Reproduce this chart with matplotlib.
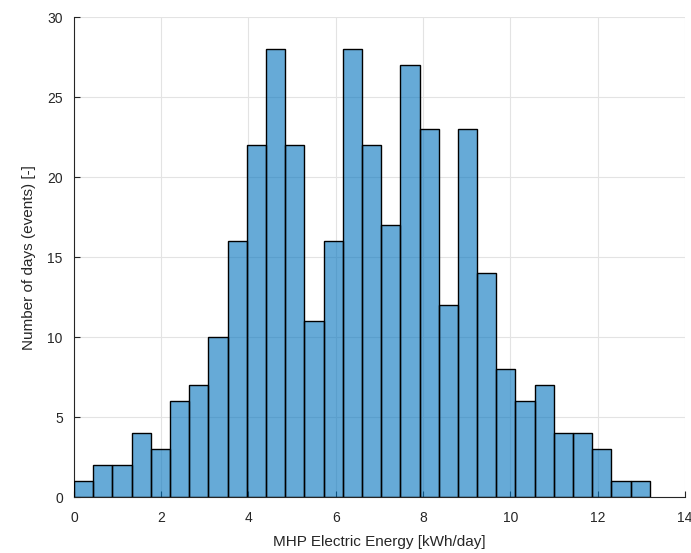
import matplotlib
matplotlib.use('Agg')
import matplotlib.pyplot as plt
import numpy as np

plt.rcParams['font.family'] = ['Liberation Sans', 'DejaVu Sans']

# histogram bins (kWh/day) and counts per bin
bin_edges = np.round(np.arange(31) * 0.44, 2)
counts = [1, 2, 2, 4, 3, 6, 7, 10, 16, 22, 28, 22, 11, 16, 28,
          22, 17, 27, 23, 12, 23, 14, 8, 6, 7, 4, 4, 3, 1, 1]

fig = plt.figure(figsize=(6.91, 5.53), dpi=100)
ax = fig.add_axes([0.107, 0.101, 0.884, 0.868])

ax.hist(bin_edges[:-1], bins=bin_edges, weights=counts,
        color='#0072BD', alpha=0.6, edgecolor='black', linewidth=0.9, zorder=2)
# redraw edges fully opaque
ax.hist(bin_edges[:-1], bins=bin_edges, weights=counts, histtype='bar',
        facecolor='none', edgecolor='black', linewidth=0.9, zorder=3)

ax.set_xlim(0, 14)
ax.set_ylim(0, 30)
ax.set_xticks(np.arange(0, 15, 2))
ax.set_yticks(np.arange(0, 31, 5))
ax.grid(True, color='#e3e3e3', linewidth=0.8, zorder=0)
ax.set_axisbelow(True)

for s in ['top', 'right']:
    ax.spines[s].set_visible(False)
for s in ['left', 'bottom']:
    ax.spines[s].set_color('#262626')
    ax.spines[s].set_linewidth(0.8)
ax.tick_params(direction='in', length=4, width=0.8, colors='#262626',
               labelsize=10)
ax.tick_params(axis='x', pad=10)
ax.tick_params(axis='y', pad=8)

ax.set_xlabel('MHP Electric Energy [kWh/day]', fontsize=11, color='#262626', labelpad=7)
ax.set_ylabel('Number of days (events) [-]', fontsize=11, color='#262626', labelpad=8)

fig.savefig('out.png', dpi=100)
